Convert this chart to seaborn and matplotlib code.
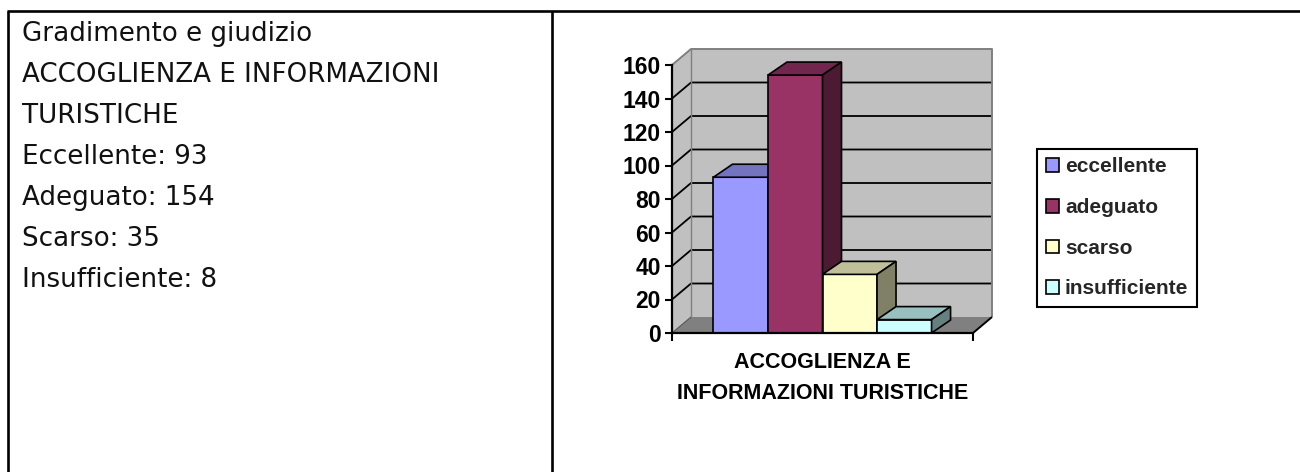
import numpy as np
import pandas as pd
import matplotlib
matplotlib.use("Agg")
import matplotlib.pyplot as plt
import seaborn as sns
from matplotlib.patches import Polygon, Patch
from matplotlib.lines import Line2D
from matplotlib.transforms import IdentityTransform
from matplotlib.colors import to_rgb

# ---------------- data ----------------
category = ["ACCOGLIENZA E INFORMAZIONI TURISTICHE"]
category_tick_label = ["ACCOGLIENZA E\nINFORMAZIONI TURISTICHE"]
levels = ["eccellente", "adeguato", "scarso", "insufficiente"]
values = [93, 154, 35, 8]
level_colors = ["#9999FF", "#993366", "#FFFFCC", "#CCFFFF"]
y_ticks = [0, 20, 40, 60, 80, 100, 120, 140, 160]
panel_title = ["Gradimento e giudizio", "ACCOGLIENZA E INFORMAZIONI", "TURISTICHE"]

# ---------------- setup ----------------
W, H, DPI = 1300, 472, 100
sns.set_theme(style="white")
plt.rcParams["font.family"] = ["Liberation Sans", "DejaVu Sans"]

fig = plt.figure(figsize=(W / DPI, H / DPI), dpi=DPI)
fig.patch.set_facecolor("white")


def fx(x):
    return x / W


def fy(y):
    return 1 - y / H


# table borders
for xs, ys in [([7, W], [10.5, 10.5]), ([8, 8], [10.5, H]), ([552, 552], [10.5, H])]:
    fig.add_artist(Line2D([fx(v) for v in xs], [fy(v) for v in ys],
                          transform=fig.transFigure, color="black", lw=1.9,
                          solid_capstyle="butt"))

# left text panel
lines = panel_title + [f"{lv.capitalize()}: {v}" for lv, v in zip(levels, values)]
for i, s in enumerate(lines):
    fig.text(fx(22), fy(40.7 + 41 * i), s, ha="left", va="baseline",
             fontsize=18.8, family=["DejaVu Sans"], weight="normal",
             color="#111111")

# ---------------- chart ----------------
ax = fig.add_axes([fx(672), fy(333), (973 - 672) / W, (333 - 65) / H])
df = pd.DataFrame({"categoria": category * len(levels),
                   "giudizio": levels,
                   "valore": values})
sns.barplot(data=df, x="categoria", y="valore", hue="giudizio",
            hue_order=levels, palette=level_colors, width=0.8, gap=0,
            saturation=1, edgecolor="black", linewidth=1.2, ax=ax, legend=False)

XL, XR = -0.552, 0.552
ax.set_xlim(XL, XR)
ax.set_ylim(y_ticks[0], y_ticks[-1])
ax.set_facecolor("none")
ax.set_xlabel("")
ax.set_ylabel("")
for side in ["top", "right"]:
    ax.spines[side].set_visible(False)
for side in ["left", "bottom"]:
    ax.spines[side].set_color("black")
    ax.spines[side].set_linewidth(1.6)
    ax.spines[side].set_zorder(20)

ax.set_yticks(y_ticks)
ax.tick_params(axis="y", direction="out", length=5, width=1.5, color="black",
               pad=3, labelsize=16.5, labelcolor="black", left=True)
ax.set_xticks([0], labels=category_tick_label)
ax.set_xticks([XL, XR], minor=True)
ax.tick_params(axis="x", which="major", length=0, pad=14, labelsize=15.5,
               labelcolor="black")
ax.tick_params(axis="x", which="minor", direction="out", length=6, width=1.5,
               color="black", bottom=True)
for lbl in ax.get_yticklabels() + ax.get_xticklabels():
    lbl.set_fontweight("bold")
for lbl in ax.get_xticklabels():
    lbl.set_linespacing(1.6)

ID = IdentityTransform()
DX, DY = 19, 16      # wall depth (pixels)
BDX, BDY = 19, 13    # bar depth (pixels)

(xl, y0) = ax.transData.transform((XL, y_ticks[0]))
(xr, yt) = ax.transData.transform((XR, y_ticks[-1]))

wall_col = "#C0C0C0"
floor_col = "#808080"
edge_col = "#808080"


def poly(pts, fc, z, ec="none", lw=0):
    p = Polygon(pts, closed=True, facecolor=fc, edgecolor=ec, lw=lw,
                transform=ID, clip_on=False, zorder=z)
    ax.add_artist(p)


def line(xs, ys, c, lw, z):
    ax.add_artist(Line2D(xs, ys, color=c, lw=lw, transform=ID,
                         clip_on=False, zorder=z, solid_capstyle="butt"))


# back wall, side wall, floor
poly([(xl + DX, y0 + DY), (xr + DX, y0 + DY), (xr + DX, yt + DY), (xl + DX, yt + DY)], wall_col, 0.5)
poly([(xl, y0), (xl, yt), (xl + DX, yt + DY), (xl + DX, y0 + DY)], wall_col, 0.5)
poly([(xl, y0), (xr, y0), (xr + DX, y0 + DY), (xl + DX, y0 + DY)], floor_col, 0.6)

# gridlines on walls
for v in y_ticks[1:-1]:
    _, yv = ax.transData.transform((0, v))
    line([xl, xl + DX, xr + DX], [yv, yv + DY, yv + DY], "black", 1.3, 0.8)
# wall edges
line([xl, xl + DX, xr + DX, xr + DX], [yt, yt + DY, yt + DY, y0 + DY], edge_col, 1.4, 0.8)
line([xl + DX, xl + DX], [y0 + DY, yt + DY], edge_col, 1.0, 0.8)
line([xl, xl + DX], [y0, y0 + DY], "#555555", 0.8, 0.8)
line([xr, xr + DX], [y0, y0 + DY], "black", 1.4, 0.8)

# 3D bar faces
for i, cont in enumerate(ax.containers):
    rect = cont.patches[0]
    rect.set_zorder(3 + 2 * i)
    x0 = rect.get_x()
    x1 = x0 + rect.get_width()
    h = rect.get_height()
    X0, Yb = ax.transData.transform((x0, 0))
    X1, Yt = ax.transData.transform((x1, h))
    base = np.array(to_rgb(level_colors[i]))
    top_c = base * 0.75
    side_c = base * 0.5
    poly([(X0, Yt), (X1, Yt), (X1 + BDX, Yt + BDY), (X0 + BDX, Yt + BDY)],
         top_c, 4 + 2 * i, ec="black", lw=1.2)
    poly([(X1, Yb), (X1 + BDX, Yb + BDY), (X1 + BDX, Yt + BDY), (X1, Yt)],
         side_c, 4 + 2 * i, ec="black", lw=1.2)

# legend
handles = [Patch(facecolor=c, edgecolor="black", lw=1.2) for c in level_colors]
leg = fig.legend(handles, levels, loc="center",
                 bbox_to_anchor=(fx(1117), fy(228)),
                 frameon=True, fancybox=False, edgecolor="black", framealpha=1,
                 prop=dict(family="Liberation Sans", weight="bold", size=15),
                 handlelength=0.62, handleheight=0.62, handletextpad=0.3,
                 labelspacing=1.04, borderpad=0.4, borderaxespad=0)
leg.get_frame().set_linewidth(1.5)

fig.savefig("out.png", dpi=DPI, facecolor="white")
